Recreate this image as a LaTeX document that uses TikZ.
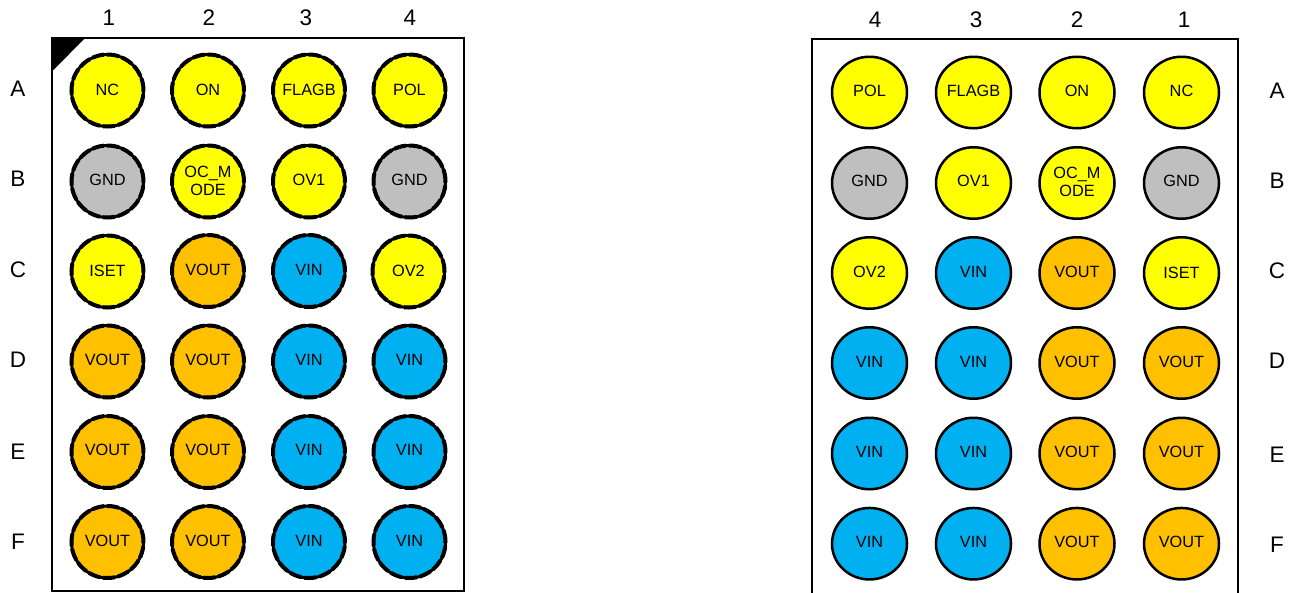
\documentclass[tikz,border=0pt]{standalone}
\usepackage{fontspec}
\usetikzlibrary{shapes.geometric}
\setmainfont{Liberation Sans}
\definecolor{pinyellow}{RGB}{255,255,0}
\definecolor{pingray}{RGB}{191,191,191}
\definecolor{pinorange}{RGB}{255,192,0}
\definecolor{pinblue}{RGB}{0,176,240}
\tikzset{
  x=1pt,y=-1pt,
  pin/.style={ellipse,draw=black,line width=2.5pt,minimum width=75pt,minimum height=71.5pt,inner sep=0pt},
  bumpy/.style={circle,draw=black,minimum size=72pt,inner sep=0pt,line width=3pt,postaction={draw,line width=4pt,dash pattern=on 12pt off 3pt}},
  pintext/.style={align=center,inner sep=0pt,font=\fontsize{16.3}{17.5}\selectfont,text=black},
  ye/.style={fill=pinyellow},gr/.style={fill=pingray},or/.style={fill=pinorange},bl/.style={fill=pinblue},
  lab/.style={font=\fontsize{22.5}{25}\selectfont,text=black,inner sep=0pt},
  pack/.style={draw=black,line width=2pt,fill=none,line join=miter}
}
\begin{document}
\begin{tikzpicture}
\useasboundingbox (0,0) rectangle (1291,592);
\fill[white] (0,0) rectangle (1291,592);
% packages
\draw[pack] (52,38) rectangle (464,591);
\draw[pack] (812.3,600) -- (812.3,39) -- (1238,39) -- (1238,600);
\fill[black] (51,37) -- (86,37) -- (52,71.5) -- cycle;
% left labels
\foreach \t/\x in {1/109,2/209,3/306,4/410}{\node[lab] (lc\t) at (\x,18) {\t};}
\foreach \t/\y in {A/89,B/179,C/270,D/360,E/452,F/542}{\node[lab] (lr\t) at (18,\y) {\t};}
% right labels
\foreach \t/\x in {4/875,3/976,2/1077,1/1184}{\node[lab] (rc\t) at (\x,20) {\t};}
\foreach \t/\y in {A/91,B/181,C/271,D/361,E/455,F/545}{\node[lab] (rr\t) at (1277,\y) {\t};}
% left pins
\foreach \n/\x/\y/\ty/\c/\t in {
 A1/107.5/90.5/90/ye/NC,A2/208/90.5/90/ye/ON,A3/309/90.5/90/ye/FLAGB,A4/409.5/90.5/90/ye/POL,
 B1/107.5/181.5/180/gr/GND,B2/208/181.5/181/ye/{OC\_M\\ODE},B3/309/181.5/180/ye/OV1,B4/409.5/181.5/180/gr/GND,
 C1/107.5/271.5/271/ye/ISET,C2/208/271/270/or/VOUT,C3/309/271/270/bl/VIN,C4/408.5/271.5/271/ye/OV2,
 D1/107.5/361.5/360/or/VOUT,D2/208/361.5/360/or/VOUT,D3/309/361.5/360/bl/VIN,D4/409.5/361.5/360/bl/VIN,
 E1/107.5/452/450/or/VOUT,E2/208/452/450/or/VOUT,E3/309/452/450/bl/VIN,E4/409.5/452/450/bl/VIN,
 F1/107.5/542/541/or/VOUT,F2/208/542/541/or/VOUT,F3/309/542/541/bl/VIN,F4/409.5/542/541/bl/VIN}{
  \node[bumpy,\c] (l\n) at (\x,\y) {};
  \node[pintext] (lt\n) at (\x,\ty) {\t};
}
% right pins
\foreach \n/\x/\y/\ty/\c/\t in {
 A4/869.5/92.5/91/ye/POL,A3/973.5/92.5/91/ye/FLAGB,A2/1077/92.5/91/ye/ON,A1/1181.5/92.5/91/ye/NC,
 B4/869.5/183/181/gr/GND,B3/973.5/183/181/ye/OV1,B2/1077/183/182/ye/{OC\_M\\ODE},B1/1181.5/183/181/gr/GND,
 C4/869.5/273/272/ye/OV2,C3/973.5/273/272/bl/VIN,C2/1077/273/272/or/VOUT,C1/1181.5/273/273/ye/ISET,
 D4/869.5/363/362/bl/VIN,D3/973.5/363/362/bl/VIN,D2/1077/363/362/or/VOUT,D1/1181.5/363/362/or/VOUT,
 E4/869.5/453.5/452/bl/VIN,E3/973.5/453.5/452/bl/VIN,E2/1077/453.5/452/or/VOUT,E1/1181.5/453.5/452/or/VOUT,
 F4/869.5/543.7/542/bl/VIN,F3/973.5/543.7/542/bl/VIN,F2/1077/543.7/542/or/VOUT,F1/1181.5/543.7/542/or/VOUT}{
  \node[pin,\c] (r\n) at (\x,\y) {};
  \node[pintext] (rt\n) at (\x,\ty) {\t};
}
\end{tikzpicture}
\end{document}
